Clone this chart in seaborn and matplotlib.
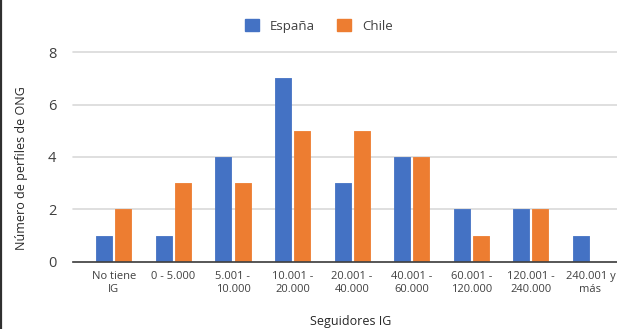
import matplotlib
matplotlib.use("Agg")
import matplotlib.pyplot as plt
import seaborn as sns
import pandas as pd
from matplotlib.lines import Line2D
from matplotlib.patches import Patch

categorias = ["No tiene\nIG", "0 - 5.000", "5.001 -\n10.000", "10.001 -\n20.000",
              "20.001 -\n40.000", "40.001 -\n60.000", "60.001 -\n120.000",
              "120.001 -\n240.000", "240.001 y\nmás"]
espana = [1, 1, 4, 7, 3, 4, 2, 2, 1]
chile = [2, 3, 3, 5, 5, 4, 1, 2, 0]
series = ["España", "Chile"]
colores = ["#4472C4", "#ED7D31"]
y_ticks = [0, 2, 4, 6, 8]

df = pd.DataFrame({
    "Seguidores": categorias * 2,
    "Pais": [series[0]] * len(categorias) + [series[1]] * len(categorias),
    "Perfiles": espana + chile,
})

sns.set_theme(style="white")
plt.rcParams["font.family"] = ["Open Sans", "DejaVu Sans"]

W, H = 617, 329
fig = plt.figure(figsize=(W / 100, H / 100), dpi=100)
left_px, right_px = 73, 617
top_px, bot_px = 52.3, 261.7
ax = fig.add_axes([left_px / W, 1 - bot_px / H, (right_px - left_px) / W, (bot_px - top_px) / H])

sns.barplot(data=df, x="Seguidores", y="Perfiles", hue="Pais", order=categorias,
            hue_order=series, palette=colores, width=0.64, gap=0.16,
            saturation=1, ax=ax, legend=False, zorder=3)
for p in ax.patches:
    p.set_edgecolor(p.get_facecolor())
    p.set_linewidth(0.6)
    p.set_joinstyle("round")

ax.set_ylim(0, 8)
ax.set_xlim(-0.685, 8.445)
ax.set_yticks(y_ticks)
ax.set_yticklabels([str(v) for v in y_ticks], fontsize=10.5, color="#404040")
ax.tick_params(axis="x", labelsize=8, colors="#404040", length=0, pad=7)
ax.tick_params(axis="y", length=0, pad=12)
for lbl in ax.get_xticklabels():
    lbl.set_linespacing(1.15)
ax.yaxis.grid(True, color="#d9d9d9", linewidth=1.2, zorder=0)
ax.set_axisbelow(True)
for s in ["top", "right", "left"]:
    ax.spines[s].set_visible(False)
ax.spines["bottom"].set_color("#404040")
ax.spines["bottom"].set_linewidth(1.2)
ax.spines["bottom"].set_zorder(4)
for gl in ax.get_ygridlines():
    gl.set_clip_on(False)

ax.set_xlabel("")
ax.set_ylabel("")
fig.text(351 / W, 1 - 322 / H, "Seguidores IG", ha="center", va="center",
         fontsize=9, color="#262626")
fig.text(22 / W, 1 - 168 / H, "Número de perfiles de ONG", ha="center", va="center",
         rotation=90, fontsize=9, color="#262626")

handles = [Patch(facecolor=c, edgecolor=c, label=s) for c, s in zip(colores, series)]
fig.legend(handles=handles, loc="center", bbox_to_anchor=(319 / W, 1 - 26 / H),
           ncol=2, frameon=False, fontsize=9.5, handlelength=1.05, handleheight=1.05,
           handletextpad=0.85, columnspacing=1.7, labelcolor="#404040")

fig.add_artist(Line2D([0.8 / W, 0.8 / W], [0, 1], color="#303030", linewidth=1.6))

fig.savefig("out.png", dpi=100, facecolor="white")
